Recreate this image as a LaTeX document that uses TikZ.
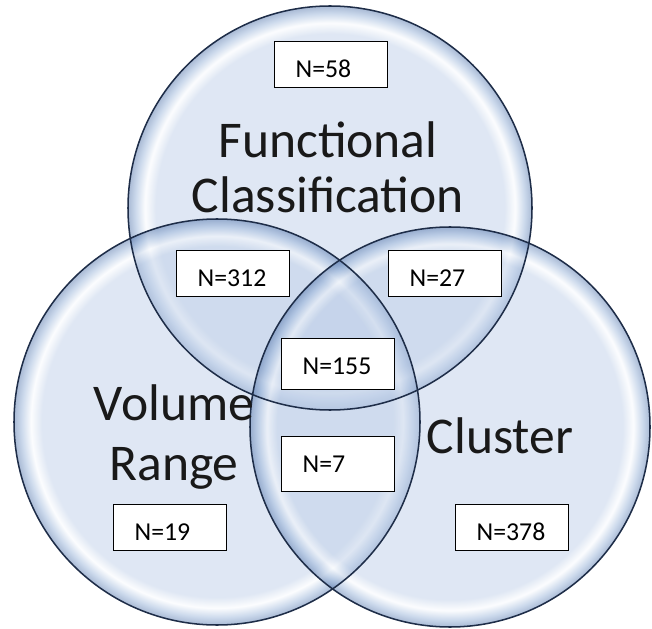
\documentclass[tikz,border=0pt]{standalone}
\usepackage{fontspec}
\setmainfont{Carlito}
\usetikzlibrary{calc}
\definecolor{bubcore}{RGB}{188,205,231}
\definecolor{bubglow}{RGB}{248,250,253}
\definecolor{bubrim}{RGB}{145,174,214}
\definecolor{bubedge}{RGB}{72,108,165}
\definecolor{rimdark}{RGB}{30,45,72}
\pgfdeclareradialshading{bubble}{\pgfpoint{0bp}{0bp}}{color(0bp)=(bubcore);color(21.6bp)=(bubcore);color(22.9bp)=(bubglow);color(24.1bp)=(bubrim);color(25bp)=(bubedge);color(50bp)=(bubedge)}
\tikzset{
  rimline/.style={draw=rimdark,line width=1.3pt},
  settitle/.style={inner sep=0pt,align=center,anchor=base,text=black!90},
  nbox/.style={draw,fill=white,line width=1.1pt,anchor=north west,text width=2.13cm,
    inner xsep=0.63cm,inner ysep=0pt,align=left,text height=1.08cm,text depth=0.3cm,
    font=\fontsize{22}{26}\selectfont}
}
\begin{document}
\begin{tikzpicture}[x=0.03cm,y=-0.03cm]
\useasboundingbox(0,0)rectangle(652,629);
\coordinate(fc)at(330,208);
\coordinate(vr)at(217,422);
\coordinate(cl)at(450,427);
\foreach \c/\r in {fc/202,vr/203,cl/200}
  \shade[shading=bubble,fill opacity=0.47](\c)circle[radius=\r];
\foreach \c/\r in {fc/202,vr/203,cl/200}
  \draw[rimline](\c)circle[radius=\r];
\node[settitle,font=\fontsize{44}{47}\selectfont](tfc)at(328,213){Functional\\Classification};
\node[settitle,font=\fontsize{44}{51}\selectfont](tvr)at(174,480){Volume\\Range};
\node[settitle,font=\fontsize{44}{51}\selectfont](tcl)at(500,453){Cluster};
\node[nbox](n58)at(274,41){N=58};
\node[nbox](n312)at(176,250){N=312};
\node[nbox](n27)at(388,250){N=27};
\node[nbox,text depth=0.45cm](n155)at(281,338){N=155};
\node[nbox,text depth=0.57cm](n7)at(281,436){N=7};
\node[nbox](n19)at(113,504){N=19};
\node[nbox](n378)at(455,504){N=378};
\end{tikzpicture}
\end{document}
